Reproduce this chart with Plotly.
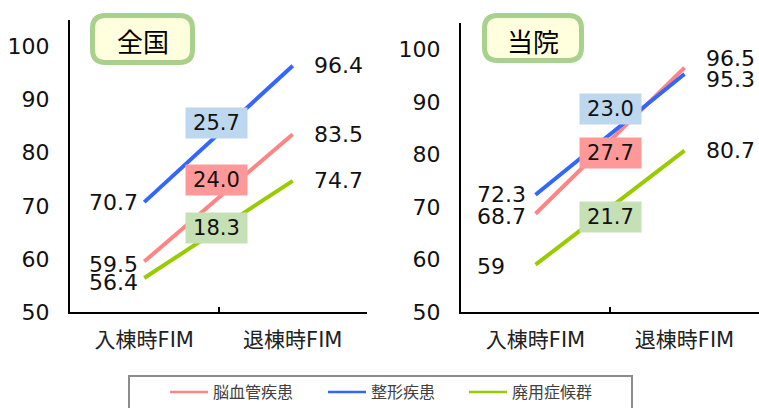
import plotly.graph_objects as go

# ---------------- data ----------------
categories = ["入棟時FIM", "退棟時FIM"]
series_names = ["脳血管疾患", "整形疾患", "廃用症候群"]
panel_titles = ["全国", "当院"]

national_start = [59.5, 70.7, 56.4]
national_end = [83.5, 96.4, 74.7]
national_gain = [24.0, 25.7, 18.3]

hospital_start = [68.7, 72.3, 59]
hospital_end = [96.5, 95.3, 80.7]
hospital_gain = [27.7, 23.0, 21.7]

y_ticks = [50, 60, 70, 80, 90, 100]

# ---------------- style ----------------
W, H = 759, 408
M_T, M_B = 20, 96
PLOT_H = H - M_T - M_B

line_colors = ["#ff8585", "#3366ff", "#99cc00"]
box_colors = ["#ff9999", "#bdd7ee", "#c5e0b4"]
legend_x_px = [165, 323, 464]
NUM_FONT = "DejaVu Sans, Noto Sans CJK JP, sans-serif"
CJK_FONT = "Noto Sans CJK JP, DejaVu Sans, sans-serif"

panels = [
    dict(start=national_start, end=national_end, gain=national_gain,
         xref="x", yref="y",
         start_shift=[-3, 0, -4], end_shift=[0, 0, 0],
         gain_shift=[18, 11, 1], gain_xshift=-2,
         start_x=-57, end_x=19,
         box=(90, 13, 195, 65)),
    dict(start=hospital_start, end=hospital_end, gain=hospital_gain,
         xref="x2", yref="y2",
         start_shift=[-3, 0, -2], end_shift=[9, -6, 0],
         gain_shift=[-12, 25, -9], gain_xshift=0,
         start_x=-61, end_x=19,
         box=(482, 13, 584, 63)),
]


def fmt(v):
    return str(v)


def px_x(p):
    return p / W


def px_y(p):
    return (H - M_B - p) / PLOT_H


def rounded_path(x0, y0, x1, y1, r):
    X = px_x
    Y = px_y
    return (
        f"M{X(x0 + r)},{Y(y0)} L{X(x1 - r)},{Y(y0)} Q{X(x1)},{Y(y0)} {X(x1)},{Y(y0 + r)} "
        f"L{X(x1)},{Y(y1 - r)} Q{X(x1)},{Y(y1)} {X(x1 - r)},{Y(y1)} "
        f"L{X(x0 + r)},{Y(y1)} Q{X(x0)},{Y(y1)} {X(x0)},{Y(y1 - r)} "
        f"L{X(x0)},{Y(y0 + r)} Q{X(x0)},{Y(y0)} {X(x0 + r)},{Y(y0)} Z"
    )


fig = go.Figure()
annotations = []
shapes = []

for pi, p in enumerate(panels):
    xa = "x" if pi == 0 else "x2"
    ya = "y" if pi == 0 else "y2"
    for i, name in enumerate(series_names):
        fig.add_trace(go.Scatter(
            x=categories, y=[p["start"][i], p["end"][i]],
            mode="lines", line=dict(color=line_colors[i], width=4),
            name=name, showlegend=False, hoverinfo="skip",
            xaxis=xa, yaxis=ya,
        ))
        annotations.append(dict(
            x=categories[0], y=p["start"][i], xref=p["xref"], yref=p["yref"],
            text=fmt(p["start"][i]), showarrow=False, xanchor="left",
            xshift=p["start_x"], yshift=p["start_shift"][i],
            font=dict(family=NUM_FONT, size=22, color="#111111"),
        ))
        annotations.append(dict(
            x=categories[1], y=p["end"][i], xref=p["xref"], yref=p["yref"],
            text=fmt(p["end"][i]), showarrow=False, xanchor="left",
            xshift=p["end_x"], yshift=p["end_shift"][i],
            font=dict(family=NUM_FONT, size=22, color="#111111"),
        ))
        annotations.append(dict(
            x=0.5, y=(p["start"][i] + p["end"][i]) / 2,
            xref=p["xref"], yref=p["yref"],
            text=f"{p['gain'][i]:.1f}", showarrow=False,
            xshift=p["gain_xshift"], yshift=p["gain_shift"][i],
            bgcolor=box_colors[i], width=57, height=26, borderpad=2,
            font=dict(family=NUM_FONT, size=21, color="#111111"),
        ))
    bx0, by0, bx1, by1 = p["box"]
    shapes.append(dict(
        type="path", xref="paper", yref="paper",
        path=rounded_path(bx0 + 2.5, by0 + 2.5, bx1 - 2.5, by1 - 2.5, 13),
        fillcolor="#ffffdd", line=dict(color="#a9d18e", width=5), layer="above",
    ))
    annotations.append(dict(
        x=px_x((bx0 + bx1) / 2), y=px_y((by0 + by1) / 2 + 2),
        xref="paper", yref="paper", text=panel_titles[pi], showarrow=False,
        xanchor="center", yanchor="middle",
        font=dict(family=CJK_FONT, size=26, color="#000000"),
    ))

# legend-only entries (one legend per entry for exact placement)
legend_ids = ["legend", "legend2", "legend3"]
for i, name in enumerate(series_names):
    fig.add_trace(go.Scatter(
        x=[None], y=[None], mode="lines", name=name,
        line=dict(color=line_colors[i], width=2.5), showlegend=True,
        hoverinfo="skip", legend=legend_ids[i],
    ))

shapes.append(dict(
    type="rect", xref="paper", yref="paper",
    x0=px_x(129), x1=px_x(632), y0=px_y(376), y1=px_y(420),
    line=dict(color="#8c8c8c", width=2), fillcolor="rgba(0,0,0,0)",
))

axis_x = dict(
    type="category", categoryorder="array", categoryarray=categories,
    range=[-0.5, 1.5], showline=True, linecolor="#000000", linewidth=2,
    ticks="inside", tickson="boundaries", ticklen=5, tickwidth=1.5,
    tickcolor="#000000", showgrid=False, zeroline=False, automargin=False,
    ticklabelstandoff=8,
    tickfont=dict(family=NUM_FONT, size=21, color="#222222"),
    fixedrange=True,
)
axis_y = dict(
    range=[50, 105], tickvals=y_ticks, showline=True, linecolor="#000000",
    linewidth=2, ticks="", showgrid=False, zeroline=False, automargin=False,
    ticklabelstandoff=14,
    tickfont=dict(family=NUM_FONT, size=22, color="#111111"),
    fixedrange=True,
)

legend_common = dict(
    orientation="h", y=px_y(392), xanchor="left", yanchor="middle",
    bgcolor="rgba(0,0,0,0)", borderwidth=0, itemwidth=38,
    font=dict(family=CJK_FONT, size=16, color="#404040"),
)

fig.update_layout(
    width=W, height=H,
    margin=dict(l=0, r=0, t=M_T, b=M_B, autoexpand=False),
    paper_bgcolor="#ffffff", plot_bgcolor="#ffffff",
    xaxis=dict(axis_x, domain=[70 / W, 367 / W], anchor="y"),
    yaxis=dict(axis_y, domain=[0, 1], anchor="x"),
    xaxis2=dict(axis_x, domain=[461 / W, 1.0], anchor="y2"),
    yaxis2=dict(axis_y, domain=[0, px_y(23)], anchor="x2"),
    showlegend=True,
    legend=dict(legend_common, x=px_x(legend_x_px[0])),
    legend2=dict(legend_common, x=px_x(legend_x_px[1])),
    legend3=dict(legend_common, x=px_x(legend_x_px[2])),
    annotations=annotations,
    shapes=shapes,
)

fig.write_html("out.html", config={"displayModeBar": False},
               post_script="document.body.style.margin='0';")
